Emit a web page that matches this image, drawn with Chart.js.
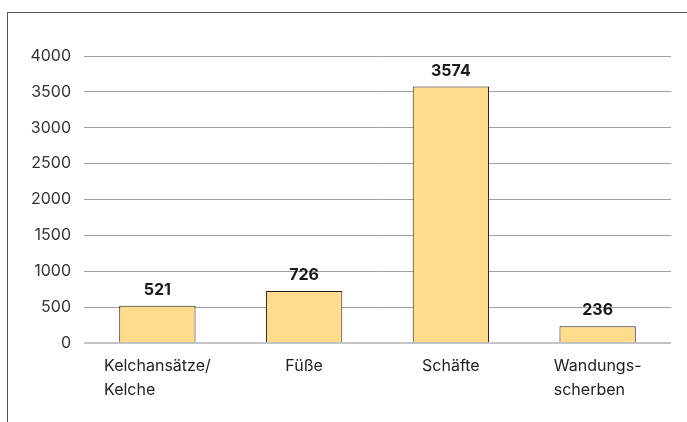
<!DOCTYPE html>
<html>
<head>
<meta charset="utf-8">
<script src="https://cdn.jsdelivr.net/npm/chart.js@4/dist/chart.umd.min.js"></script>
<style>
  html, body { margin: 0; padding: 0; background: #fff; }
  #wrap { position: relative; width: 687px; height: 422px; }
  #frame { position: absolute; left: 7px; top: 12px; width: 680px; height: 410px;
           border-left: 1px solid #555; border-top: 1px solid #555; box-sizing: border-box; }
  canvas { position: absolute; left: 0; top: 0; }
</style>
</head>
<body>
<div id="wrap">
  <div id="frame"></div>
  <canvas id="c" width="687" height="422"></canvas>
</div>
<script>
const categories = [["Kelchansätze/", "Kelche"], "Füße", "Schäfte", ["Wandungs-", "scherben"]];
const values = [521, 726, 3574, 236];
const yTicks = [0, 500, 1000, 1500, 2000, 2500, 3000, 3500, 4000];

const FONT = "Inter, 'Liberation Sans', Arial, sans-serif";
const LINE_H = 23.5;

const valueLabels = {
  id: 'valueLabels',
  afterDatasetsDraw(chart) {
    const ctx = chart.ctx;
    const meta = chart.getDatasetMeta(0);
    ctx.save();
    ctx.font = "bold 16px " + FONT;
    ctx.fillStyle = '#1a1a1a';
    ctx.textAlign = 'center';
    ctx.textBaseline = 'alphabetic';
    meta.data.forEach((bar, i) => {
      ctx.fillText(String(values[i]), bar.x, bar.y - 11);
    });
    ctx.restore();
  }
};

// x labels: block centred under each bar, lines left-aligned within the block
const xLabels = {
  id: 'xLabels',
  afterDraw(chart) {
    const ctx = chart.ctx;
    const xs = chart.scales.x;
    const base = chart.chartArea.bottom + 28;
    ctx.save();
    ctx.font = "16px " + FONT;
    ctx.fillStyle = '#222';
    ctx.textAlign = 'left';
    ctx.textBaseline = 'alphabetic';
    categories.forEach((lab, i) => {
      const lines = Array.isArray(lab) ? lab : [lab];
      const w = Math.max(...lines.map(l => ctx.measureText(l).width));
      const left = xs.getPixelForTick(i) - w / 2;
      lines.forEach((l, j) => ctx.fillText(l, left, base + j * LINE_H));
    });
    ctx.restore();
  }
};

new Chart(document.getElementById('c'), {
  type: 'bar',
  data: {
    labels: categories,
    datasets: [{
      data: values,
      backgroundColor: '#FFDB8C',
      borderColor: '#222',
      borderWidth: 1,
      categoryPercentage: 1.0,
      barPercentage: 0.52
    }]
  },
  options: {
    responsive: false,
    animation: false,
    devicePixelRatio: 1,
    layout: { padding: { left: 0, right: 16, top: 56, bottom: 8.5 } },
    plugins: { legend: { display: false }, tooltip: { enabled: false } },
    scales: {
      x: {
        grid: { display: false, drawTicks: false },
        border: { display: false },
        ticks: { color: 'rgba(0,0,0,0)', font: { family: FONT, size: 16, lineHeight: 1.45 }, padding: 12, maxRotation: 0, autoSkip: false }
      },
      y: {
        min: 0, max: 4000,
        afterBuildTicks(axis) { axis.ticks = yTicks.map(v => ({ value: v })); },
        grid: {
          drawTicks: false,
          color: ctx => ctx.tick && ctx.tick.value === 0 ? '#c4c4c4' : '#a0a0a0',
          lineWidth: ctx => ctx.tick && ctx.tick.value === 0 ? 2 : 1
        },
        border: { display: false },
        ticks: { color: '#333', font: { family: FONT, size: 16 }, padding: 13, callback: v => String(v) },
        afterFit(axis) { axis.width = 84; }
      }
    }
  },
  plugins: [valueLabels, xLabels]
});
</script>
</body>
</html>
